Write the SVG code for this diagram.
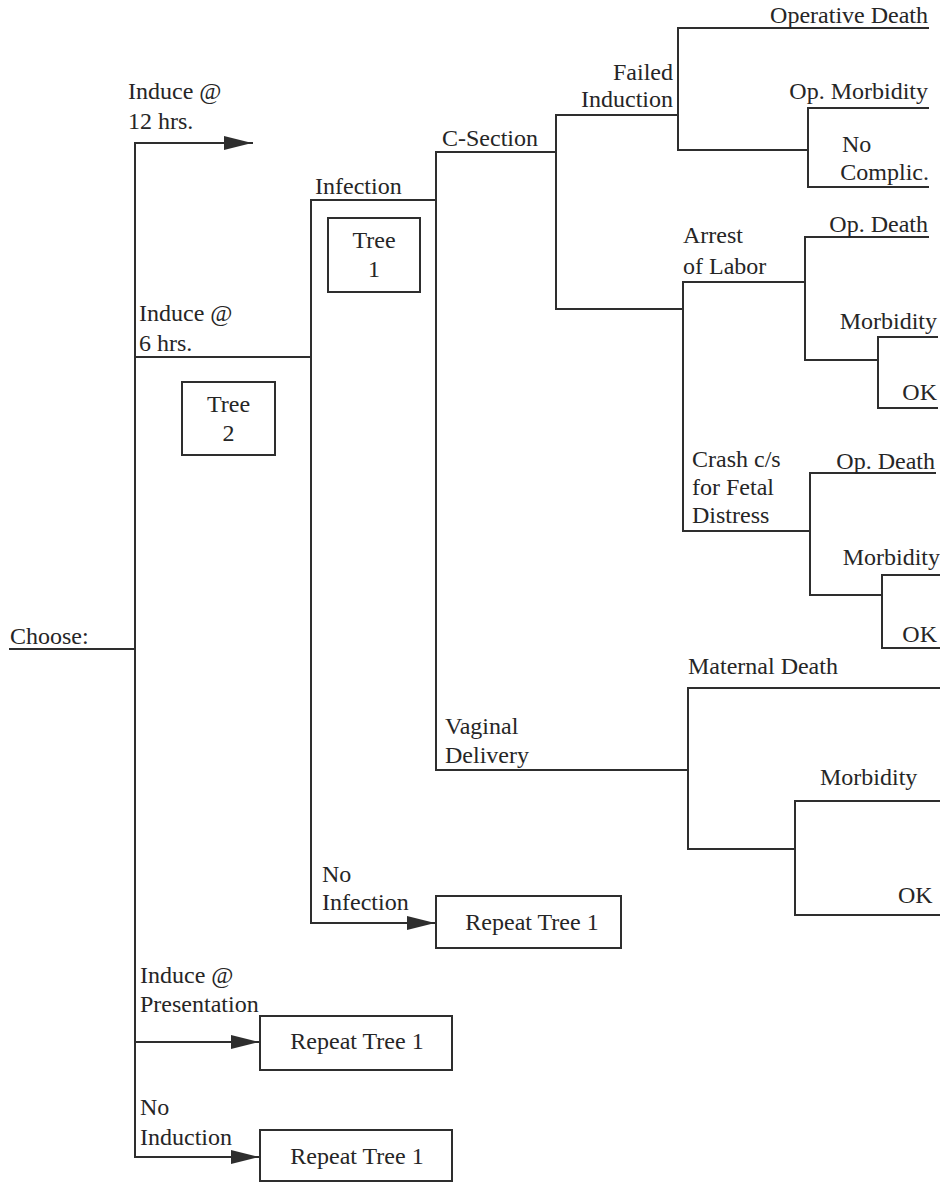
<svg xmlns="http://www.w3.org/2000/svg" width="940" height="1183" viewBox="0 0 940 1183">
  <defs>
    <style>
      .ln { fill: none; stroke: #2e2e2e; stroke-width: 2; stroke-linecap: square; }
      .bx { fill: #ffffff; stroke: #2e2e2e; stroke-width: 2; }
      .e { text-anchor: end; }
      .m { text-anchor: middle; }
    </style>
    <marker id="arrow" markerUnits="userSpaceOnUse" markerWidth="28" markerHeight="14" refX="28" refY="7" orient="auto">
      <path d="M0,0 L28,7 L0,14 Z" fill="#2e2e2e"/>
    </marker>
  </defs>

  <rect x="0" y="0" width="940" height="1183" fill="#ffffff"/>

  <!-- branch lines of the decision tree -->
  <g id="connectors">
    <!-- root decision -->
    <path class="ln" d="M10,649 H135"/>
    <path class="ln" d="M135,143 V1157"/>
    <path class="ln" d="M135,143 H252" marker-end="url(#arrow)"/>
    <path class="ln" d="M135,357 H311"/>
    <path class="ln" d="M135,1042 H259" marker-end="url(#arrow)"/>
    <path class="ln" d="M135,1157 H259" marker-end="url(#arrow)"/>

    <!-- infection chance node -->
    <path class="ln" d="M311,200 V923"/>
    <path class="ln" d="M311,200 H436"/>
    <path class="ln" d="M311,923 H435" marker-end="url(#arrow)"/>

    <!-- delivery route -->
    <path class="ln" d="M436,152 V770"/>
    <path class="ln" d="M436,152 H556"/>
    <path class="ln" d="M436,770 H688"/>

    <!-- c-section reasons -->
    <path class="ln" d="M556,115 V309"/>
    <path class="ln" d="M556,115 H678"/>
    <path class="ln" d="M556,309 H683"/>

    <!-- failed induction outcomes -->
    <path class="ln" d="M678,28 V150"/>
    <path class="ln" d="M678,28 H928"/>
    <path class="ln" d="M678,150 H808"/>
    <path class="ln" d="M808,108 V187"/>
    <path class="ln" d="M808,108 H928"/>
    <path class="ln" d="M808,187 H928"/>

    <!-- labor complications -->
    <path class="ln" d="M683,282 V531"/>
    <path class="ln" d="M683,282 H805"/>
    <path class="ln" d="M683,531 H810"/>

    <!-- arrest of labor outcomes -->
    <path class="ln" d="M805,237 V360"/>
    <path class="ln" d="M805,237 H928"/>
    <path class="ln" d="M805,360 H878"/>
    <path class="ln" d="M878,337 V408"/>
    <path class="ln" d="M878,337 H937"/>
    <path class="ln" d="M878,408 H937"/>

    <!-- crash c/s outcomes -->
    <path class="ln" d="M810,473 V595"/>
    <path class="ln" d="M810,473 H935"/>
    <path class="ln" d="M810,595 H882"/>
    <path class="ln" d="M882,575 V648"/>
    <path class="ln" d="M882,575 H940"/>
    <path class="ln" d="M882,648 H940"/>

    <!-- vaginal delivery outcomes -->
    <path class="ln" d="M688,688 V849"/>
    <path class="ln" d="M688,688 H940"/>
    <path class="ln" d="M688,849 H795"/>
    <path class="ln" d="M795,801 V915"/>
    <path class="ln" d="M795,801 H940"/>
    <path class="ln" d="M795,915 H940"/>
  </g>

  <g font-family="Liberation Serif" font-size="24" fill="#262626">
  <!-- root decision and its options -->
  <g id="node-choose">
    <text x="10" y="644">Choose:</text>
    <text x="128" y="99">Induce @</text>
    <text x="128" y="129">12 hrs.</text>
    <text x="139" y="321">Induce @</text>
    <text x="139" y="351">6 hrs.</text>
    <text x="140" y="983">Induce @</text>
    <text x="140" y="1012">Presentation</text>
    <text x="140" y="1115">No</text>
    <text x="140" y="1145">Induction</text>
  </g>

  <g id="node-tree2">
    <rect class="bx" x="182" y="382" width="93" height="73"/>
    <text class="m" x="228.5" y="412">Tree</text>
    <text class="m" x="228.5" y="441">2</text>
  </g>

  <g id="node-infection">
    <text x="315" y="194">Infection</text>
    <text x="322" y="882">No</text>
    <text x="322" y="910">Infection</text>
  </g>

  <g id="node-tree1">
    <rect class="bx" x="328" y="218" width="92" height="74"/>
    <text class="m" x="374" y="248">Tree</text>
    <text class="m" x="374" y="277">1</text>
  </g>

  <g id="node-repeat-infection">
    <rect class="bx" x="436" y="896" width="185" height="52"/>
    <text class="m" x="532" y="930">Repeat Tree 1</text>
  </g>

  <g id="node-repeat-presentation">
    <rect class="bx" x="260" y="1016" width="192" height="54"/>
    <text class="m" x="357" y="1049">Repeat Tree 1</text>
  </g>

  <g id="node-repeat-noinduction">
    <rect class="bx" x="260" y="1130" width="192" height="51"/>
    <text class="m" x="357" y="1164">Repeat Tree 1</text>
  </g>

  <g id="node-delivery">
    <text x="442" y="146">C-Section</text>
    <text x="445" y="734">Vaginal</text>
    <text x="445" y="763">Delivery</text>
  </g>

  <g id="node-csection">
    <text class="e" x="673" y="80">Failed</text>
    <text class="e" x="673" y="107">Induction</text>
    <text x="683" y="243">Arrest</text>
    <text x="683" y="274">of Labor</text>
    <text x="692" y="467">Crash c/s</text>
    <text x="692" y="495">for Fetal</text>
    <text x="692" y="523">Distress</text>
  </g>

  <g id="node-failed-induction">
    <text class="e" x="928" y="23">Operative Death</text>
    <text class="e" x="928" y="99">Op. Morbidity</text>
    <text x="842" y="152">No</text>
    <text class="e" x="929" y="180">Complic.</text>
  </g>

  <g id="node-arrest">
    <text class="e" x="928" y="232">Op. Death</text>
    <text class="e" x="937" y="329">Morbidity</text>
    <text class="e" x="937" y="400">OK</text>
  </g>

  <g id="node-crash">
    <text class="e" x="935" y="469">Op. Death</text>
    <text class="e" x="940" y="565">Morbidity</text>
    <text class="e" x="937" y="642">OK</text>
  </g>

  <g id="node-vaginal">
    <text x="688" y="674">Maternal Death</text>
    <text x="820" y="785">Morbidity</text>
    <text x="898" y="903">OK</text>
  </g>
  </g>
</svg>
